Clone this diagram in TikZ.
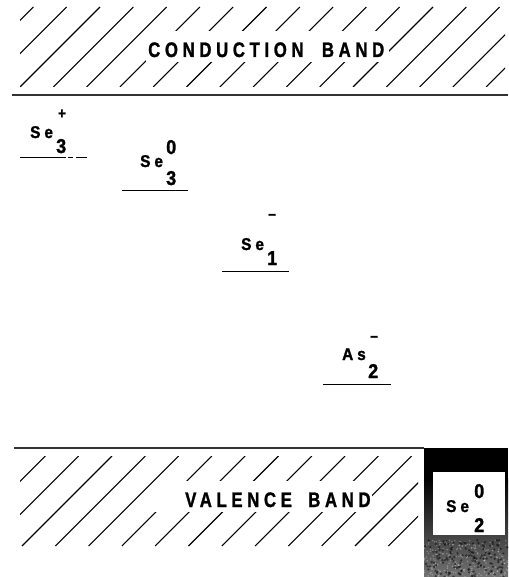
\documentclass[tikz,border=0pt]{standalone}
\usepackage{fontspec}
\setmainfont{Liberation Sans}
\newfontfamily\bandfont{Liberation Sans Bold}[FakeStretch=0.8,LetterSpace=22,FakeBold=1.2]
\newfontfamily\lblfont{Liberation Sans Bold}[FakeStretch=0.9,FakeBold=1.5]
\begin{document}
\begin{tikzpicture}[x=1pt,y=-1pt,
  hatch/.style={line width=1.1pt,black},
  bandline/.style={line width=1.5pt,black!80},
  level/.style={line width=1pt,black},
  bandtext/.style={anchor=base west,inner sep=0pt,font=\bandfont\fontsize{21}{21}\selectfont},
  mainlbl/.style={anchor=base west,inner sep=0pt,font=\lblfont\fontsize{17}{17}\selectfont},
  digit/.style={anchor=base west,inner sep=0pt,font=\lblfont\fontsize{20}{20}\selectfont},
  sign/.style={anchor=center,inner sep=0pt,font=\lblfont\fontsize{15}{15}\selectfont}]
\useasboundingbox (0,0) rectangle (508,577);
\fill[white] (0,0) rectangle (508,577);

% conduction band hatching
\begin{scope}
  \clip (20,7) rectangle (505,87);
  \foreach \k in {-3,...,15} \draw[hatch] ({20+33.3*\k},87) -- ++(80,-80);
\end{scope}
\fill[white] (146,31) rectangle (389,62);
\node[bandtext] (cb) at (148,57) {CONDUCTION\kern9pt{} BAND};
\draw[bandline] (12,95) -- (508,95);

% valence band hatching
\begin{scope}
  \clip (20,456) rectangle (418,546);
  \foreach \k in {-3,...,12} \draw[hatch] ({22+33.3*\k},546) -- ++(90,-90);
\end{scope}
\fill[white] (155,481) rectangle (372,512);
\node[bandtext] (vb) at (185,507) {VALENCE\kern7pt{} BAND};
\draw[bandline] (14,448) -- (424,448);

% dark box
\fill[black] (424,448) rectangle (508,577);
\shade[top color=black, bottom color=black!55] (424,478) rectangle (508,577);
\pgfmathsetseed{7}
\foreach \i in {1,...,250} {\fill[white,opacity=0.3] ({424+84*rnd},{540+37*rnd}) circle (0.8);}
\foreach \i in {1,...,150} {\fill[black,opacity=0.5] ({424+84*rnd},{540+37*rnd}) circle (1.3);}
\fill[white] (433,472) rectangle (505,535);

% levels
\draw[level] (20,158) -- (66,158);
\draw[level] (68,158) -- (73,158);
\draw[level] (76,158) -- (87,158);
\draw[level] (122,191) -- (188,191);
\draw[level] (222,271) -- (289,271);
\draw[level] (323,384) -- (391,384);

% labels
\node[mainlbl] (se3p) at (30,138) {S\kern4pt e};
\node[digit] (se3ps) at (56,153) {3};
\node[sign] (se3pp) at (62,114) {+};

\node[mainlbl] (se30) at (140,167) {S\kern4pt e};
\node[digit] (se30s) at (166,185) {3};
\node[digit] (se30p) at (166,154) {0};

\node[mainlbl] (se1m) at (241,250) {S\kern4pt e};
\node[digit] (se1ms) at (267,265) {1};
\node[sign] (se1mp) at (272,217) {−};

\node[mainlbl] (as2m) at (342,360) {A\kern4pt s};
\node[digit] (as2ms) at (368,378) {2};
\node[sign] (as2mp) at (374,339) {−};

\node[mainlbl] (se20) at (446,512) {S\kern4pt e};
\node[digit] (se20s) at (474,532) {2};
\node[digit] (se20p) at (474,498) {0};
\end{tikzpicture}
\end{document}
